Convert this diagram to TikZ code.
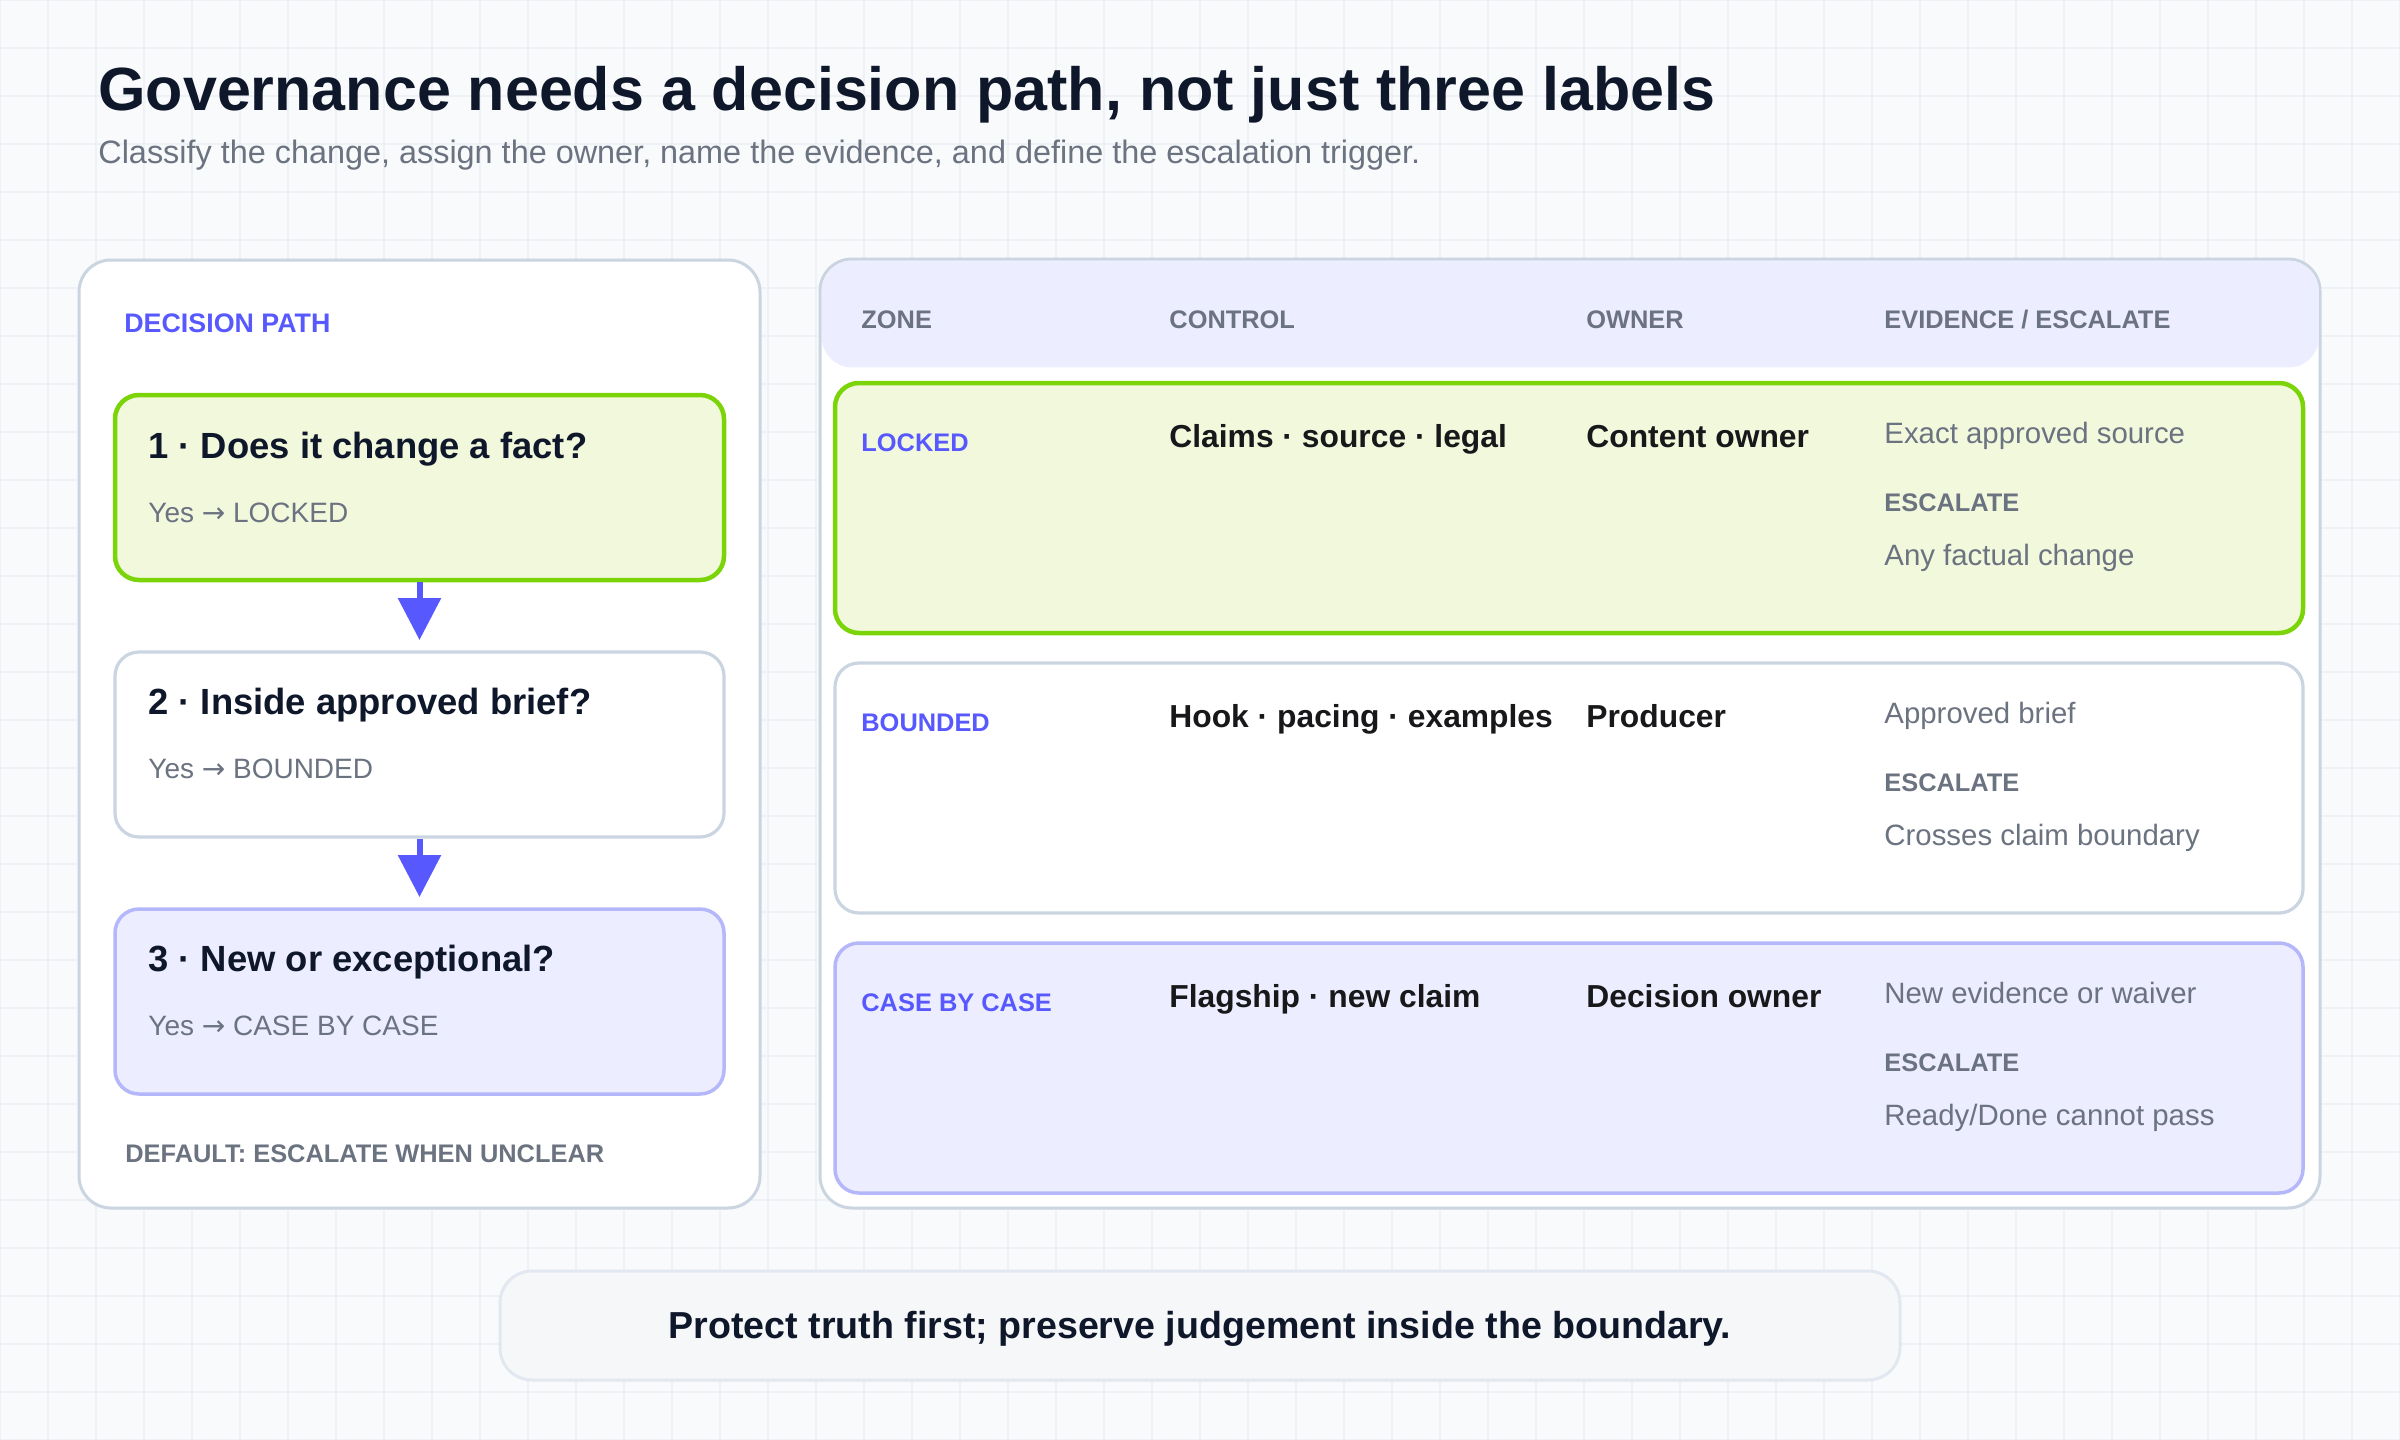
\documentclass[tikz,border=0pt]{standalone}
\usepackage{fontspec}
\setmainfont{Liberation Sans}
\newfontfamily\arrowfont{DejaVu Sans}
\usepackage{xcolor}
\usetikzlibrary{arrows.meta,positioning}

\definecolor{bg}{RGB}{248,250,252}
\definecolor{gridc}{RGB}{238,241,245}
\definecolor{ink}{RGB}{15,23,42}
\definecolor{cellink}{RGB}{24,24,27}
\definecolor{muted}{RGB}{107,114,128}
\definecolor{accent}{RGB}{88,88,255}
\definecolor{lockline}{RGB}{122,212,8}
\definecolor{lockfill}{RGB}{242,248,220}
\definecolor{caseline}{RGB}{180,184,250}
\definecolor{casefill}{RGB}{236,237,254}
\definecolor{panelline}{RGB}{203,213,225}
\definecolor{notefill}{RGB}{245,247,249}
\definecolor{noteline}{RGB}{226,232,240}

\begin{document}
\begin{tikzpicture}[x=0.5pt, y=-0.5pt, >={Triangle[width=21pt,length=21pt]},
	panel/.style={rectangle, draw=panelline, line width=1.5pt, fill=white,
		rounded corners=16pt, anchor=north west, inner sep=0pt, outer sep=0pt},
	qbox/.style={rectangle, rounded corners=12pt, anchor=north west, inner sep=0pt,
		outer sep=0pt, minimum width=304.5pt, minimum height=92.5pt},
	rowbox/.style={rectangle, rounded corners=12pt, anchor=north west, inner sep=0pt,
		outer sep=0pt, minimum width=734pt, minimum height=125pt},
	lbl/.style={anchor=base west, inner sep=0pt},
	title/.style={lbl, text=ink, font=\fontsize{30.5pt}{36pt}\selectfont\bfseries},
	subtitle/.style={lbl, text=muted, font=\fontsize{16.2pt}{19pt}\selectfont},
	tag/.style={lbl, text=accent, font=\fontsize{12.7pt}{15pt}\selectfont\bfseries},
	caps/.style={lbl, text=muted, font=\fontsize{12.7pt}{15pt}\selectfont\bfseries},
	qtitle/.style={lbl, text=ink, font=\fontsize{18.2pt}{21pt}\selectfont\bfseries},
	qsub/.style={lbl, text=muted, font=\fontsize{14pt}{17pt}\selectfont},
	cell/.style={lbl, text=cellink, font=\fontsize{15.9pt}{18pt}\selectfont\bfseries},
	evid/.style={lbl, text=muted, font=\fontsize{14.7pt}{17pt}\selectfont},
	flow/.style={->, accent, line width=3pt, shorten >=6pt, shorten <=1pt}
]

\useasboundingbox (0,0) rectangle (2400,1440);

%Background and grid
\fill[bg] (0,0) rectangle (2400,1440);
\begin{scope}[x=1pt, y=1pt]
\draw[gridc, line width=0.8pt, step=24] (0,-720) grid (1200,0);
\end{scope}

%Title
\node[title] (ttl) at (98,110) {Governance needs a decision path, not just three labels};
\node[subtitle] (sub) at (98,163) {Classify the change, assign the owner, name the evidence, and define the escalation trigger.};

%Decision path panel
\node[panel, minimum width=340.5pt, minimum height=474pt] (path) at (79,260) {};
\node[tag, font=\fontsize{13.4pt}{15pt}\selectfont\bfseries] (pathtag)
	at ([xshift=22.5pt, yshift=-36pt]path.north west) {DECISION PATH};

%Question 1
\node[qbox, draw=lockline, line width=2.25pt, fill=lockfill] (q1)
	at ([xshift=18pt, yshift=-67.5pt]path.north west) {};
\node[qtitle] (q1t) at ([xshift=16.5pt, yshift=-31.5pt]q1.north west) {1 · Does it change a fact?};
\node[qsub] (q1s) at ([xshift=16.5pt, yshift=-63.5pt]q1.north west) {Yes {\arrowfont →} LOCKED};

%Question 2
\node[qbox, draw=panelline, line width=1.6pt, fill=white, below=36pt of q1] (q2) {};
\node[qtitle] (q2t) at ([xshift=16.5pt, yshift=-31pt]q2.north west) {2 · Inside approved brief?};
\node[qsub] (q2s) at ([xshift=16.5pt, yshift=-63pt]q2.north west) {Yes {\arrowfont →} BOUNDED};

%Question 3
\node[qbox, draw=caseline, line width=1.75pt, fill=casefill, below=36pt of q2] (q3) {};
\node[qtitle] (q3t) at ([xshift=16.5pt, yshift=-31pt]q3.north west) {3 · New or exceptional?};
\node[qsub] (q3s) at ([xshift=16.5pt, yshift=-63pt]q3.north west) {Yes {\arrowfont →} CASE BY CASE};

%Default rule
\node[caps] (default) at ([xshift=23pt, yshift=23pt]path.south west) {DEFAULT: ESCALATE WHEN UNCLEAR};

%Paths
%question 1 to question 2
\draw[flow] (q1) -- (q2);
%question 2 to question 3
\draw[flow] (q2) -- (q3);

%Zone table panel
\node[panel, minimum width=750pt, minimum height=474.5pt] (table) at (820,259) {};
\node[rectangle, fill=casefill, rounded corners=15pt, anchor=north west, inner sep=0pt,
	minimum width=748.5pt, minimum height=53.25pt] (hdr) at ([xshift=0.75pt, yshift=-0.75pt]table.north west) {};
\node[caps] (hzone) at ([xshift=20.5pt, yshift=-34.5pt]table.north west) {ZONE};
\node[caps] (hcontrol) at ([xshift=174.5pt, yshift=-34.5pt]table.north west) {CONTROL};
\node[caps] (howner) at ([xshift=383pt, yshift=-34.5pt]table.north west) {OWNER};
\node[caps] (hevid) at ([xshift=532pt, yshift=-34.5pt]table.north west) {EVIDENCE / ESCALATE};

%Locked row
\node[rowbox, draw=lockline, line width=2.25pt, fill=lockfill] (locked)
	at ([xshift=7.5pt, yshift=-62pt]table.north west) {};
\node[tag] (lockedz) at ([xshift=13pt, yshift=-34pt]locked.north west) {LOCKED};
\node[cell] (lockedc) at ([xshift=167pt, yshift=-32pt]locked.north west) {Claims · source · legal};
\node[cell] (lockedo) at ([xshift=375.5pt, yshift=-32pt]locked.north west) {Content owner};
\node[evid] (lockede) at ([xshift=524.5pt, yshift=-30pt]locked.north west) {Exact approved source};
\node[caps] (lockedx) at ([xshift=524.5pt, yshift=-64pt]locked.north west) {ESCALATE};
\node[evid] (lockedt) at ([xshift=524.5pt, yshift=-91pt]locked.north west) {Any factual change};

%Bounded row
\node[rowbox, draw=panelline, line width=1.6pt, fill=white, below=15pt of locked] (bounded) {};
\node[tag] (boundedz) at ([xshift=13pt, yshift=-34pt]bounded.north west) {BOUNDED};
\node[cell] (boundedc) at ([xshift=167pt, yshift=-32pt]bounded.north west) {Hook · pacing · examples};
\node[cell] (boundedo) at ([xshift=375.5pt, yshift=-32pt]bounded.north west) {Producer};
\node[evid] (boundede) at ([xshift=524.5pt, yshift=-30pt]bounded.north west) {Approved brief};
\node[caps] (boundedx) at ([xshift=524.5pt, yshift=-64pt]bounded.north west) {ESCALATE};
\node[evid] (boundedt) at ([xshift=524.5pt, yshift=-91pt]bounded.north west) {Crosses claim boundary};

%Case by case row
\node[rowbox, draw=caseline, line width=1.75pt, fill=casefill, below=15pt of bounded] (casebc) {};
\node[tag] (casebcz) at ([xshift=13pt, yshift=-34pt]casebc.north west) {CASE BY CASE};
\node[cell] (casebcc) at ([xshift=167pt, yshift=-32pt]casebc.north west) {Flagship · new claim};
\node[cell] (casebco) at ([xshift=375.5pt, yshift=-32pt]casebc.north west) {Decision owner};
\node[evid] (casebce) at ([xshift=524.5pt, yshift=-30pt]casebc.north west) {New evidence or waiver};
\node[caps] (casebcx) at ([xshift=524.5pt, yshift=-64pt]casebc.north west) {ESCALATE};
\node[evid] (casebct) at ([xshift=524.5pt, yshift=-91pt]casebc.north west) {Ready/Done cannot pass};

%Closing note
\node[rectangle, draw=noteline, line width=1.5pt, fill=notefill, rounded corners=16pt,
	minimum width=700pt, minimum height=54.5pt, text=ink,
	font=\fontsize{18.8pt}{22pt}\selectfont\bfseries, text height=13.45pt, text depth=0pt] (note)
	at (1200,1325.5) {Protect truth first; preserve judgement inside the boundary.};

\end{tikzpicture}
\end{document}
